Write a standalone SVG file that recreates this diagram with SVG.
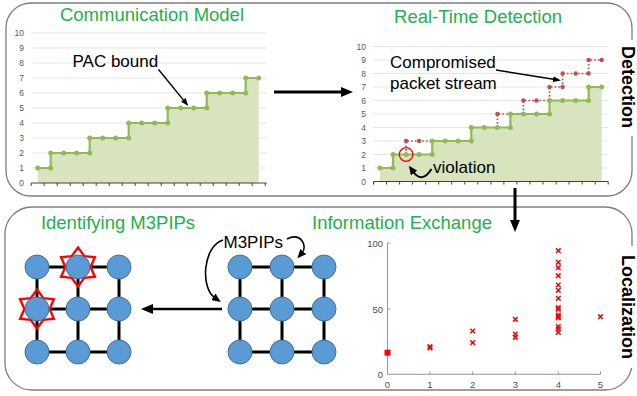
<svg xmlns="http://www.w3.org/2000/svg" xmlns:xlink="http://www.w3.org/1999/xlink" width="637" height="396" viewBox="0 0 637 396">
  <style>
    text { font-family: "Liberation Sans", Arial, sans-serif; }
    .frame { fill: none; stroke: #7f7f7f; stroke-width: 1.3; }
    .title { fill: #22b04c; font-size: 18.5px; text-anchor: middle; }
    .label { fill: #000; font-size: 17px; }
    .side { fill: #000; font-size: 18px; font-weight: bold; text-anchor: middle; dominant-baseline: central; }
    .ylab { fill: #595959; font-size: 8.5px; text-anchor: end; dominant-baseline: central; }
    .grid { stroke: #dedede; stroke-width: 0.8; }
    .axis { stroke: #404040; stroke-width: 1; fill: none; }
    .area { fill: #d7e4bd; }
    .step { fill: none; stroke: #93b956; stroke-width: 2.2; }
    .dot { fill: #93b956; }
    .attack { fill: none; stroke: #c0504d; stroke-width: 1.7; stroke-dasharray: 1.7 2; }
    .rdot { fill: #c0504d; }
    .arrow { fill: none; stroke: #000; }
    .edge { stroke: #000; stroke-width: 3; }
    .node { fill: #5b9bd5; stroke: #41719c; stroke-width: 1; }
    .star { fill: none; stroke: #ff0000; stroke-width: 2.4; stroke-linejoin: miter; }
    .sc-axis { stroke: #8c8c8c; stroke-width: 0.9; fill: none; }
    .sc-lab { fill: #4d4d4d; font-size: 9.5px; dominant-baseline: central; }
    .xm { stroke: #ff0000; stroke-width: 1.5; fill: none; }
  </style>
  <defs>
    <marker id="head-big" viewBox="0 0 12 10" markerWidth="12" markerHeight="10" refX="4" refY="5" orient="auto" markerUnits="userSpaceOnUse">
      <path d="M0,0 L12,5 L0,10 Z" fill="#000"/>
    </marker>
    <marker id="head-mid" viewBox="0 0 9 8" markerWidth="9" markerHeight="8" refX="2" refY="4" orient="auto" markerUnits="userSpaceOnUse">
      <path d="M0,0 L9,4 L0,8 Z" fill="#000"/>
    </marker>
    <marker id="head-thin" viewBox="0 0 8 6" markerWidth="8" markerHeight="6" refX="2" refY="3" orient="auto" markerUnits="userSpaceOnUse">
      <path d="M0,0 L8,3 L0,6 Z" fill="#000"/>
    </marker>
    <path id="xmark" class="xm" d="M-2.3,-2.3 L2.3,2.3 M-2.3,2.3 L2.3,-2.3"/>
    <polygon id="hexstar" class="star" points="0,-19.5 6.3,-10.9 16.9,-9.75 12.6,0 16.9,9.75 6.3,10.9 0,19.5 -6.3,10.9 -16.9,9.75 -12.6,0 -16.9,-9.75 -6.3,-10.9"/>
  </defs>

  <rect width="637" height="396" fill="#fff"/>

  <!-- panel frames -->
  <g id="frames">
    <rect class="frame" x="6" y="3" width="626" height="193" rx="25" ry="25"/>
    <rect class="frame" x="5" y="207" width="627" height="183" rx="27" ry="27"/>
    <rect x="619" y="40" width="18" height="96" fill="#fff"/>
    <rect x="619" y="246" width="18" height="122" fill="#fff"/>
    <text class="side" transform="translate(627.5,87) rotate(90)">Detection</text>
    <text class="side" transform="translate(627.5,307) rotate(90)">Localization</text>
  </g>

  <!-- communication model chart -->
  <g id="comm-model">
    <text class="title" x="152" y="21">Communication Model</text>
    <g class="grid">
      <line x1="31.7" y1="168" x2="266.7" y2="168"/>
      <line x1="31.7" y1="153" x2="266.7" y2="153"/>
      <line x1="31.7" y1="138" x2="266.7" y2="138"/>
      <line x1="31.7" y1="123" x2="266.7" y2="123"/>
      <line x1="31.7" y1="108" x2="266.7" y2="108"/>
      <line x1="31.7" y1="93" x2="266.7" y2="93"/>
      <line x1="31.7" y1="78" x2="266.7" y2="78"/>
      <line x1="31.7" y1="63" x2="266.7" y2="63"/>
      <line x1="31.7" y1="48" x2="266.7" y2="48"/>
      <line x1="31.7" y1="33" x2="266.7" y2="33"/>
    </g>
    <g>
      <text class="ylab" x="24" y="183">0</text>
      <text class="ylab" x="24" y="168">1</text>
      <text class="ylab" x="24" y="153">2</text>
      <text class="ylab" x="24" y="138">3</text>
      <text class="ylab" x="24" y="123">4</text>
      <text class="ylab" x="24" y="108">5</text>
      <text class="ylab" x="24" y="93">6</text>
      <text class="ylab" x="24" y="78">7</text>
      <text class="ylab" x="24" y="63">8</text>
      <text class="ylab" x="24" y="48">9</text>
      <text class="ylab" x="24" y="33">10</text>
    </g>
    <path class="area" d="M37.7,168 H50.7 V153 H89.7 V138 H128.7 V123 H167.7 V108 H206.7 V93 H245.7 V78 H258.7 V183 H37.7 Z"/>
    <path class="axis" d="M31.2,183 H266.7 M31.2,183 v3 M44.2,183 v3 M57.2,183 v3 M70.2,183 v3 M83.2,183 v3 M96.2,183 v3 M109.2,183 v3 M122.2,183 v3 M135.2,183 v3 M148.2,183 v3 M161.2,183 v3 M174.2,183 v3 M187.2,183 v3 M200.2,183 v3 M213.2,183 v3 M226.2,183 v3 M239.2,183 v3 M252.2,183 v3 M265.2,183 v3"/>
    <path class="step" d="M37.7,168 H50.7 V153 H89.7 V138 H128.7 V123 H167.7 V108 H206.7 V93 H245.7 V78 H258.7"/>
    <g class="dot">
      <circle cx="37.7" cy="168" r="2.5"/><circle cx="50.7" cy="168" r="2.5"/><circle cx="50.7" cy="153" r="2.5"/>
      <circle cx="63.7" cy="153" r="2.5"/><circle cx="76.7" cy="153" r="2.5"/><circle cx="89.7" cy="153" r="2.5"/>
      <circle cx="89.7" cy="138" r="2.5"/><circle cx="102.7" cy="138" r="2.5"/><circle cx="115.7" cy="138" r="2.5"/>
      <circle cx="128.7" cy="138" r="2.5"/><circle cx="128.7" cy="123" r="2.5"/><circle cx="141.7" cy="123" r="2.5"/>
      <circle cx="154.7" cy="123" r="2.5"/><circle cx="167.7" cy="123" r="2.5"/><circle cx="167.7" cy="108" r="2.5"/>
      <circle cx="180.7" cy="108" r="2.5"/><circle cx="193.7" cy="108" r="2.5"/><circle cx="206.7" cy="108" r="2.5"/>
      <circle cx="206.7" cy="93" r="2.5"/><circle cx="219.7" cy="93" r="2.5"/><circle cx="232.7" cy="93" r="2.5"/>
      <circle cx="245.7" cy="93" r="2.5"/><circle cx="245.7" cy="78" r="2.5"/><circle cx="258.7" cy="78" r="2.5"/>
    </g>
    <text class="label" x="72.5" y="67">PAC bound</text>
  </g>

  <!-- real-time detection chart -->
  <g id="detection">
    <text class="title" x="478" y="23">Real-Time Detection</text>
    <g class="grid">
      <line x1="373" y1="168" x2="608" y2="168"/>
      <line x1="373" y1="154.5" x2="608" y2="154.5"/>
      <line x1="373" y1="141" x2="608" y2="141"/>
      <line x1="373" y1="127.5" x2="608" y2="127.5"/>
      <line x1="373" y1="114" x2="608" y2="114"/>
      <line x1="373" y1="100.5" x2="608" y2="100.5"/>
      <line x1="373" y1="87" x2="608" y2="87"/>
      <line x1="373" y1="73.5" x2="608" y2="73.5"/>
      <line x1="373" y1="60" x2="608" y2="60"/>
      <line x1="373" y1="46.5" x2="608" y2="46.5"/>
    </g>
    <g>
      <text class="ylab" x="366" y="181.5">0</text>
      <text class="ylab" x="366" y="168">1</text>
      <text class="ylab" x="366" y="154.5">2</text>
      <text class="ylab" x="366" y="141">3</text>
      <text class="ylab" x="366" y="127.5">4</text>
      <text class="ylab" x="366" y="114">5</text>
      <text class="ylab" x="366" y="100.5">6</text>
      <text class="ylab" x="366" y="87">7</text>
      <text class="ylab" x="366" y="73.5">8</text>
      <text class="ylab" x="366" y="60">9</text>
      <text class="ylab" x="366" y="46.5">10</text>
    </g>
    <path class="area" d="M380,168 H393 V154.5 H432.2 V141 H471.3 V127.5 H510.4 V114 H549.5 V100.5 H588.6 V87 H601.7 V181.5 H380 Z"/>
    <path class="axis" d="M373.5,181.5 H608.2 M373.5,181.5 v3 M386.5,181.5 v3 M399.6,181.5 v3 M412.6,181.5 v3 M425.7,181.5 v3 M438.7,181.5 v3 M451.7,181.5 v3 M464.8,181.5 v3 M477.8,181.5 v3 M490.9,181.5 v3 M503.9,181.5 v3 M516.9,181.5 v3 M530,181.5 v3 M543,181.5 v3 M556.1,181.5 v3 M569.1,181.5 v3 M582.1,181.5 v3 M595.2,181.5 v3 M608.2,181.5 v3"/>
    <path class="attack" d="M406.1,154.5 V141 H432.2 M497.4,127.5 V114 H510.4 M523.4,114 V100.5 H549.5 M549.5,100.5 V87 H562.6 V73.5 H588.6 V60 H601.7"/>
    <path class="step" d="M380,168 H393 V154.5 H432.2 V141 H471.3 V127.5 H510.4 V114 H549.5 V100.5 H588.6 V87 H601.7"/>
    <g class="dot">
      <circle cx="380" cy="168" r="2.5"/><circle cx="393" cy="168" r="2.5"/><circle cx="393" cy="154.5" r="2.5"/>
      <circle cx="406.1" cy="154.5" r="2.5"/><circle cx="419.1" cy="154.5" r="2.5"/><circle cx="432.2" cy="154.5" r="2.5"/>
      <circle cx="432.2" cy="141" r="2.5"/><circle cx="445.2" cy="141" r="2.5"/><circle cx="458.2" cy="141" r="2.5"/>
      <circle cx="471.3" cy="141" r="2.5"/><circle cx="471.3" cy="127.5" r="2.5"/><circle cx="484.3" cy="127.5" r="2.5"/>
      <circle cx="497.4" cy="127.5" r="2.5"/><circle cx="510.4" cy="127.5" r="2.5"/><circle cx="510.4" cy="114" r="2.5"/>
      <circle cx="523.4" cy="114" r="2.5"/><circle cx="536.5" cy="114" r="2.5"/><circle cx="549.5" cy="114" r="2.5"/>
      <circle cx="549.5" cy="100.5" r="2.5"/><circle cx="562.6" cy="100.5" r="2.5"/><circle cx="575.6" cy="100.5" r="2.5"/>
      <circle cx="588.6" cy="100.5" r="2.5"/><circle cx="588.6" cy="87" r="2.5"/><circle cx="601.7" cy="87" r="2.5"/>
    </g>
    <g class="rdot">
      <circle cx="406.1" cy="141" r="2.2"/><circle cx="419.1" cy="141" r="2.2"/>
      <circle cx="497.4" cy="114" r="2.2"/>
      <circle cx="523.4" cy="100.5" r="2.2"/><circle cx="536.5" cy="100.5" r="2.2"/>
      <circle cx="549.5" cy="87" r="2.2"/><circle cx="562.6" cy="87" r="2.2"/>
      <circle cx="562.6" cy="73.5" r="2.2"/><circle cx="575.6" cy="73.5" r="2.2"/><circle cx="588.6" cy="73.5" r="2.2"/>
      <circle cx="588.6" cy="60" r="2.2"/><circle cx="601.7" cy="60" r="2.2"/>
    </g>
    <circle cx="406.1" cy="154.5" r="6.8" fill="none" stroke="#ff0000" stroke-width="1.3"/>
    <text class="label" x="390" y="68">Compromised</text>
    <text class="label" x="390" y="89">packet stream</text>
    <text class="label" x="433" y="172.5">violation</text>
  </g>

  <!-- identifying M3PIPs grid -->
  <g id="identify">
    <text class="title" x="118" y="228.5">Identifying M3PIPs</text>
  </g>

  <!-- information exchange grid -->
  <g id="exchange">
    <text class="title" x="402" y="228.5">Information Exchange</text>
    <text class="label" x="223.5" y="247.5">M3PIPs</text>
  </g>

  <!-- connectors: arrows and grid links -->
  <g id="connectors">
    <line class="arrow" x1="274" y1="92" x2="345" y2="92" stroke-width="3" marker-end="url(#head-big)"/>
    <line class="arrow" x1="515" y1="188" x2="515" y2="224" stroke-width="3" marker-end="url(#head-big)"/>
    <line class="arrow" x1="222" y1="309" x2="149" y2="309" stroke-width="2.6" marker-end="url(#head-big)"/>
    <line class="arrow" x1="158.5" y1="69.5" x2="184.5" y2="101.4" stroke-width="1.4" marker-end="url(#head-thin)"/>
    <line class="arrow" x1="496" y1="70" x2="555.1" y2="79.5" stroke-width="1.4" marker-end="url(#head-thin)"/>
    <path class="arrow" d="M431.5,169 Q422,184 413,171.5" stroke-width="2" marker-end="url(#head-mid)"/>
    <path class="arrow" d="M223,240 C203,246 200,288 215,298" stroke-width="1.6" marker-end="url(#head-mid)"/>
    <path class="arrow" d="M287,239 C301,232 308,246 302,253" stroke-width="1.6" marker-end="url(#head-mid)"/>
    <g id="links-identify">
      <line class="edge" x1="37" y1="267" x2="119" y2="267"/>
      <line class="edge" x1="37" y1="309" x2="119" y2="309"/>
      <line class="edge" x1="37" y1="352" x2="119" y2="352"/>
      <line class="edge" x1="37" y1="267" x2="37" y2="352"/>
      <line class="edge" x1="78" y1="267" x2="78" y2="352"/>
      <line class="edge" x1="119" y1="267" x2="119" y2="352"/>
    </g>
    <g id="links-exchange">
      <line class="edge" x1="240" y1="267" x2="324" y2="267"/>
      <line class="edge" x1="240" y1="309" x2="324" y2="309"/>
      <line class="edge" x1="240" y1="352" x2="324" y2="352"/>
      <line class="edge" x1="240" y1="267" x2="240" y2="352"/>
      <line class="edge" x1="282" y1="267" x2="282" y2="352"/>
      <line class="edge" x1="324" y1="267" x2="324" y2="352"/>
    </g>
  </g>

  <!-- nodes of the identifying grid -->
  <g id="id-n11"><circle class="node" cx="37" cy="267" r="12"/></g>
  <g id="id-n12"><use href="#hexstar" x="78" y="267"/><circle class="node" cx="78" cy="267" r="12"/></g>
  <g id="id-n13"><circle class="node" cx="119" cy="267" r="12"/></g>
  <g id="id-n21"><use href="#hexstar" x="37" y="309"/><circle class="node" cx="37" cy="309" r="12"/></g>
  <g id="id-n22"><circle class="node" cx="78" cy="309" r="12"/></g>
  <g id="id-n23"><circle class="node" cx="119" cy="309" r="12"/></g>
  <g id="id-n31"><circle class="node" cx="37" cy="352" r="12"/></g>
  <g id="id-n32"><circle class="node" cx="78" cy="352" r="12"/></g>
  <g id="id-n33"><circle class="node" cx="119" cy="352" r="12"/></g>

  <!-- nodes of the exchange grid -->
  <g id="ex-n11"><circle class="node" cx="240" cy="267" r="12"/></g>
  <g id="ex-n12"><circle class="node" cx="282" cy="267" r="12"/></g>
  <g id="ex-n13"><circle class="node" cx="324" cy="267" r="12"/></g>
  <g id="ex-n21"><circle class="node" cx="240" cy="309" r="12"/></g>
  <g id="ex-n22"><circle class="node" cx="282" cy="309" r="12"/></g>
  <g id="ex-n23"><circle class="node" cx="324" cy="309" r="12"/></g>
  <g id="ex-n31"><circle class="node" cx="240" cy="352" r="12"/></g>
  <g id="ex-n32"><circle class="node" cx="282" cy="352" r="12"/></g>
  <g id="ex-n33"><circle class="node" cx="324" cy="352" r="12"/></g>

  <!-- scatter of exchanged information -->
  <g id="scatter">
    <path class="sc-axis" d="M387.5,243 V374.3 H600.5 M387.5,243 h3 M387.5,309 h3 M430,374.3 v-3 M472.7,374.3 v-3 M515.3,374.3 v-3 M558.3,374.3 v-3 M600.5,374.3 v-3"/>
    <text class="sc-lab" x="383" y="243" text-anchor="end">100</text>
    <text class="sc-lab" x="383" y="309" text-anchor="end">50</text>
    <text class="sc-lab" x="383" y="374.3" text-anchor="end">0</text>
    <text class="sc-lab" x="387.5" y="384.5" text-anchor="middle">0</text>
    <text class="sc-lab" x="430" y="384.5" text-anchor="middle">1</text>
    <text class="sc-lab" x="472.7" y="384.5" text-anchor="middle">2</text>
    <text class="sc-lab" x="515.3" y="384.5" text-anchor="middle">3</text>
    <text class="sc-lab" x="558.3" y="384.5" text-anchor="middle">4</text>
    <text class="sc-lab" x="600.5" y="384.5" text-anchor="middle">5</text>
    <rect x="384.5" y="349.7" width="6" height="6" fill="#ff0000"/>
    <use href="#xmark" x="430" y="346.7"/><use href="#xmark" x="430" y="347.9"/>
    <use href="#xmark" x="472.7" y="331"/><use href="#xmark" x="472.7" y="342.7"/>
    <use href="#xmark" x="515.3" y="319.3"/><use href="#xmark" x="515.3" y="334"/><use href="#xmark" x="515.3" y="337.3"/>
    <use href="#xmark" x="558.3" y="250.7"/><use href="#xmark" x="558.3" y="262.3"/><use href="#xmark" x="558.3" y="267.7"/>
    <use href="#xmark" x="558.3" y="275.7"/><use href="#xmark" x="558.3" y="285"/><use href="#xmark" x="558.3" y="290.3"/>
    <use href="#xmark" x="558.3" y="298.3"/><use href="#xmark" x="558.3" y="307.7"/><use href="#xmark" x="558.3" y="309.3"/>
    <use href="#xmark" x="558.3" y="315"/><use href="#xmark" x="558.3" y="316.5"/><use href="#xmark" x="558.3" y="317.8"/>
    <use href="#xmark" x="558.3" y="326.7"/><use href="#xmark" x="558.3" y="329"/><use href="#xmark" x="558.3" y="332.3"/>
    <use href="#xmark" x="600.5" y="316.7"/>
  </g>
</svg>
